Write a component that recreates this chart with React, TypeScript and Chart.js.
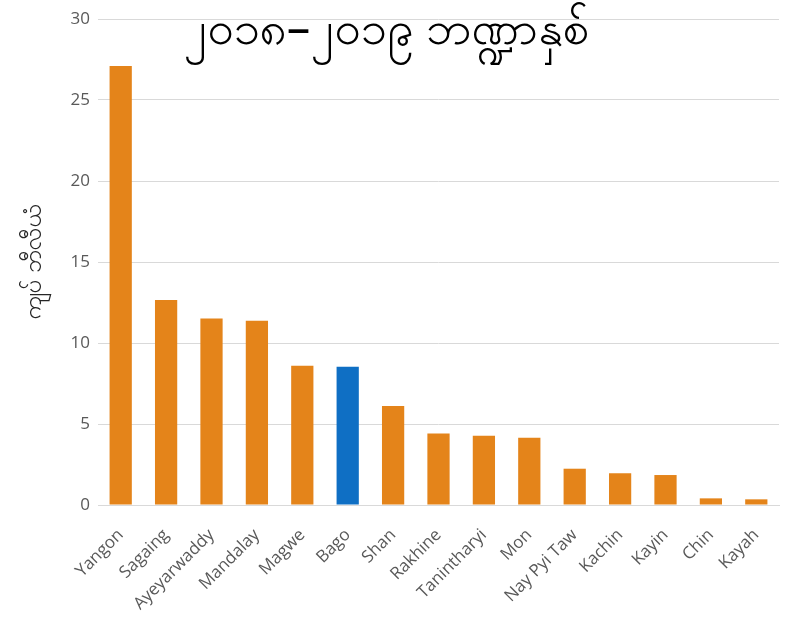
import React, { useEffect, useRef } from "react";
import { Chart, registerables } from "chart.js";

Chart.register(...registerables);

const regions = [
  "Yangon", "Sagaing", "Ayeyarwaddy", "Mandalay", "Magwe", "Bago", "Shan",
  "Rakhine", "Tanintharyi", "Mon", "Nay Pyi Taw", "Kachin", "Kayin", "Chin", "Kayah",
];
const values = [27.1, 12.65, 11.52, 11.38, 8.6, 8.54, 6.11, 4.42, 4.28, 4.15, 2.24, 1.96, 1.85, 0.41, 0.35];
const highlighted = "Bago";
const chartTitle = "၂၀၁၈–၂၀၁၉ ဘဏ္ဍာနှစ်";
const yAxisTitle = "ကျပ် ဘီလီယံ";
const yMin = 0;
const yMax = 30;
const yStep = 5;

const ORANGE = "#E4841A";
const BLUE = "#0F6FC4";

const titlePlugin = {
  id: "overlayTitle",
  afterDraw(chart: any) {
    const ctx = chart.ctx;
    ctx.save();
    ctx.fillStyle = "#000000";
    ctx.font = "47px 'Noto Sans', 'DejaVu Sans', sans-serif";
    ctx.textAlign = "center";
    ctx.textBaseline = "alphabetic";
    ctx.fillText(chartTitle, chart.width / 2 - 7, 44);
    ctx.restore();
  },
};

export default function App() {
  const ref = useRef<HTMLCanvasElement | null>(null);
  useEffect(() => {
    if (!ref.current) return;
    const chart = new Chart(ref.current, {
      type: "bar",
      data: {
        labels: regions,
        datasets: [
          {
            data: values,
            backgroundColor: regions.map((r) => (r === highlighted ? BLUE : ORANGE)),
            borderWidth: 0,
            barPercentage: 0.49,
            categoryPercentage: 1,
          },
        ],
      },
      options: {
        responsive: false,
        animation: false,
        layout: { padding: { top: 19, right: 7, left: 0, bottom: 0 } },
        plugins: {
          legend: { display: false },
          title: { display: false },
          tooltip: { enabled: false },
        },
        scales: {
          x: {
            grid: { display: false, drawTicks: false },
            border: { display: true, color: "#D9D9D9", width: 1 },
            ticks: {
              color: "#595959",
              font: { family: "'Open Sans', sans-serif", size: 17 },
              maxRotation: 45,
              minRotation: 45,
              padding: 20,
              autoSkip: false,
            },
            afterFit(scale: any) {
              scale.height = 117;
              scale.paddingLeft = 0;
              scale.paddingRight = 0;
            },
          },
          y: {
            min: yMin,
            max: yMax,
            ticks: {
              stepSize: yStep,
              color: "#595959",
              font: { family: "'Open Sans', sans-serif", size: 17 },
              padding: 8,
            },
            grid: { color: "#D9D9D9", lineWidth: 1, drawTicks: false },
            border: { display: false },
            title: {
              display: true,
              text: yAxisTitle,
              color: "#262626",
              font: { family: "'Noto Sans', sans-serif", size: 24 },
              padding: { top: 20, bottom: 0 },
            },
            afterFit(scale: any) {
              scale.width = 98;
            },
          },
        },
      },
      plugins: [titlePlugin],
    });
    return () => chart.destroy();
  }, []);
  return (
    <div style={{ position: "fixed", left: 0, top: 0, width: 786, height: 622, background: "#ffffff" }}>
      <canvas ref={ref} width={786} height={622} />
    </div>
  );
}
